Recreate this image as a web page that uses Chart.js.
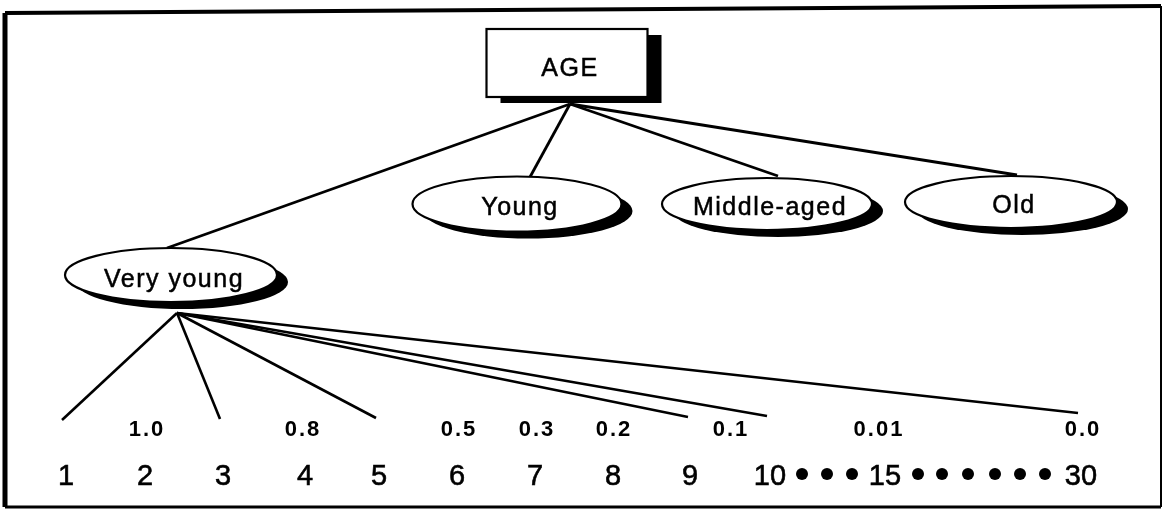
<!DOCTYPE html>
<html><head><meta charset="utf-8">
<script src="https://cdn.jsdelivr.net/npm/chart.js@4.4.0/dist/chart.umd.min.js"></script>
<style>html,body{margin:0;padding:0;background:#fff;}canvas{display:block;}</style>
</head><body>
<canvas id="c" width="1164" height="510"></canvas>
<script>
// ---- tree nodes ----
const nodeNames = ['AGE', 'Very young', 'Young', 'Middle-aged', 'Old'];
const nodeX = [567, 171, 517, 767, 1011];
const nodeY = [63, 275, 204, 204, 202];
const nodeTextY = [76, 287, 215, 215, 213];

// ---- edges from AGE to its four children ----
const rootFrom = [570, 104];
const rootEndX = [167, 530, 778, 1017];
const rootEndY = [248, 177, 176, 175];

// ---- edges from "Very young" to ages ----
const vyFrom = [177, 313];
const vyEndX = [62, 220, 376, 688, 767, 1078];
const vyEndY = [420, 419, 418, 417, 416, 413];

// ---- ages (leaf labels) ----
const ageLabels = ['1', '2', '3', '4', '5', '6', '7', '8', '9', '10', '15', '30'];
const ageX = [66, 145, 223, 305, 379, 457, 535, 613, 690, 770, 885, 1081];
const ageBaseY = 485;
const dotX = [802, 827, 852, 918, 942, 968, 995, 1020, 1045];
const dotY = 474;

// ---- membership degrees ----
const memberLabels = ['1.0', '0.8', '0.5', '0.3', '0.2', '0.1', '0.01', '0.0'];
const memberX = [146, 302, 458, 536, 613, 730, 878, 1082];
const memberBaseY = 436;

// ---- frame ----
const frameX = [5, 1161, 1161, 5, 5];
const frameY = [13, 6, 507, 507, 13];

const datasets = [];
const frameWidths = [4, 2, 3, 5];
for (let i = 0; i < 4; i++) {
  datasets.push({ type: 'scatter', showLine: true, data: [{x: frameX[i], y: frameY[i]}, {x: frameX[i+1], y: frameY[i+1]}],
    borderColor: '#000', borderWidth: frameWidths[i], pointRadius: 0, clip: false });
}
rootEndX.forEach((ex, i) => {
  datasets.push({ type: 'scatter', showLine: true, data: [{x: rootFrom[0], y: rootFrom[1]}, {x: ex, y: rootEndY[i]}],
    borderColor: '#000', borderWidth: 2.8, pointRadius: 0, clip: false });
});
vyEndX.forEach((ex, i) => {
  datasets.push({ type: 'scatter', showLine: true, data: [{x: vyFrom[0], y: vyFrom[1]}, {x: ex, y: vyEndY[i]}],
    borderColor: '#000', borderWidth: 2.6, pointRadius: 0, clip: false });
});
datasets.push({ type: 'scatter', showLine: false, data: dotX.map(x => ({x, y: dotY})),
  pointRadius: 6, pointBackgroundColor: '#000', pointBorderColor: '#000', pointBorderWidth: 0, clip: false });

function heavyText(ctx, t, x, y, w) {
  ctx.fillText(t, x, y);
  ctx.lineWidth = w; ctx.strokeText(t, x, y);
}

const treePlugin = {
  id: 'tree',
  afterDatasetsDraw(chart) {
    const ctx = chart.ctx, xs = chart.scales.x, ys = chart.scales.y;
    const X = v => xs.getPixelForValue(v), Y = v => ys.getPixelForValue(v);
    ctx.save();
    // root box
    const bw = 161, bh = 68;
    const bx = X(nodeX[0]) - bw / 2, by = Y(nodeY[0]) - bh / 2;
    ctx.fillStyle = '#000';
    ctx.fillRect(bx + 14, by + 6, bw, bh);
    ctx.fillStyle = '#fff';
    ctx.fillRect(bx, by, bw, bh);
    ctx.lineWidth = 2.2; ctx.strokeStyle = '#000';
    ctx.strokeRect(bx, by, bw, bh);
    // ellipses
    const rx = [0, 106, 104.5, 105, 106], ry = [0, 27, 27.5, 26, 26];
    for (let i = 1; i < nodeNames.length; i++) {
      const cx = X(nodeX[i]), cy = Y(nodeY[i]);
      ctx.fillStyle = '#000';
      ctx.beginPath(); ctx.ellipse(cx + 11, cy + 7, rx[i], ry[i], 0, 0, Math.PI * 2); ctx.fill();
      ctx.fillStyle = '#fff';
      ctx.beginPath(); ctx.ellipse(cx, cy, rx[i], ry[i], 0, 0, Math.PI * 2); ctx.fill();
      ctx.lineWidth = 2.2; ctx.stroke();
    }
    // node texts
    ctx.fillStyle = '#000'; ctx.strokeStyle = '#000';
    ctx.textAlign = 'center'; ctx.textBaseline = 'alphabetic';
    ctx.font = '25px "Liberation Sans", Arial, sans-serif';
    ctx.letterSpacing = '1.5px';
    nodeNames.forEach((n, i) => heavyText(ctx, n, X(nodeX[i]) + 3, Y(nodeTextY[i]), 0.5));
    // ages
    ctx.font = '29px "Liberation Sans", Arial, sans-serif';
    ctx.letterSpacing = '0px';
    ageLabels.forEach((a, i) => heavyText(ctx, a, X(ageX[i]), Y(ageBaseY), 0.6));
    // membership values
    ctx.font = 'bold 22px "Liberation Sans", Arial, sans-serif';
    ctx.letterSpacing = '2px';
    memberLabels.forEach((m, i) => ctx.fillText(m, X(memberX[i]) + 1, Y(memberBaseY)));
    ctx.restore();
  }
};

new Chart(document.getElementById('c'), {
  type: 'scatter',
  data: { datasets },
  options: {
    responsive: false, animation: false, devicePixelRatio: 1,
    layout: { padding: 0, autoPadding: false },
    plugins: { legend: { display: false }, tooltip: { enabled: false } },
    scales: {
      x: { type: 'linear', min: 0, max: 1164, display: false },
      y: { type: 'linear', min: 0, max: 510, reverse: true, display: false }
    }
  },
  plugins: [treePlugin]
});
</script>
</body></html>
